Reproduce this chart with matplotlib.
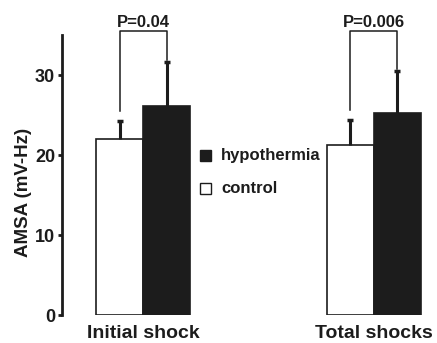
import matplotlib
matplotlib.use("Agg")
import matplotlib.pyplot as plt
from matplotlib.patches import Rectangle

plt.rcParams['font.family'] = ['Liberation Sans', 'DejaVu Sans']
plt.rcParams['font.weight'] = 'bold'

categories = ["Initial shock", "Total shocks"]
control = [22.0, 21.3]
hypothermia = [26.1, 25.3]
control_err = [2.3, 3.1]
hypo_err = [5.5, 5.2]
p_labels = ["P=0.04", "P=0.006"]
yticks = [0, 10, 20, 30]

fig = plt.figure(figsize=(4.37, 3.43), dpi=100)
ax = fig.add_axes([62/437, 28/343, 375/437, 280/343])

w = 0.2035
xs = [0, 1]
dark = '#1c1c1c'
for i, x in enumerate(xs):
    ax.bar(x - w/2, control[i], w, color='white', edgecolor=dark, linewidth=1.2, zorder=2)
    ax.bar(x + w/2, hypothermia[i], w, color=dark, edgecolor=dark, linewidth=1.2, zorder=2)
    for xc, v, e in [(x - w/2, control[i], control_err[i]), (x + w/2, hypothermia[i], hypo_err[i])]:
        ax.vlines(xc, v, v + e, color=dark, linewidth=2.2, zorder=3)
        ax.plot([xc], [v + e], marker='_', markersize=5, markeredgewidth=2.5, color=dark, zorder=3)
    # significance bracket
    top = 35.5
    yl = control[i] + control_err[i] + 1.2
    yr = hypothermia[i] + hypo_err[i] + 0.3
    ax.plot([x - w/2, x - w/2, x + w/2, x + w/2], [yl, top, top, yr],
            color=dark, linewidth=1.1, clip_on=False)
    ax.text(x, top + 0.55, p_labels[i], ha='center', va='baseline',
            fontsize=12, fontweight='bold', color=dark, clip_on=False)
    ax.text(x, -2.85, categories[i], ha='center', va='baseline',
            fontsize=14, fontweight='bold', color=dark, clip_on=False)

ax.set_xlim(-0.351, 1.273)
ax.set_ylim(0, 35)
ax.set_yticks(yticks)
ax.set_yticklabels([str(t) for t in yticks], fontsize=13, fontweight='bold', color=dark)
ax.set_xticks([])
for s in ['top', 'right', 'bottom']:
    ax.spines[s].set_visible(False)
ax.spines['left'].set_linewidth(2)
ax.spines['left'].set_color(dark)
ax.tick_params(axis='y', direction='out', length=3, width=2, pad=2, color=dark)
ax.set_ylabel("AMSA (mV-Hz)", fontsize=13.5, fontweight='bold', color=dark)
ax.yaxis.set_label_coords(-30/375, (315 - 192) / 280)

# legend
lx = (200 - 143) / 231
for fc, lab, yv in [(dark, 'hypothermia', 19.9), ('white', 'control', 15.8)]:
    ax.add_patch(Rectangle((lx, yv - 0.68), 11/231, 1.36, facecolor=fc, edgecolor=dark,
                           linewidth=1, clip_on=False, zorder=4))
    ax.text(lx + 21/231, yv, lab, va='center', ha='left', fontsize=12,
            fontweight='bold', color=dark)

fig.savefig("out.png", dpi=100)
